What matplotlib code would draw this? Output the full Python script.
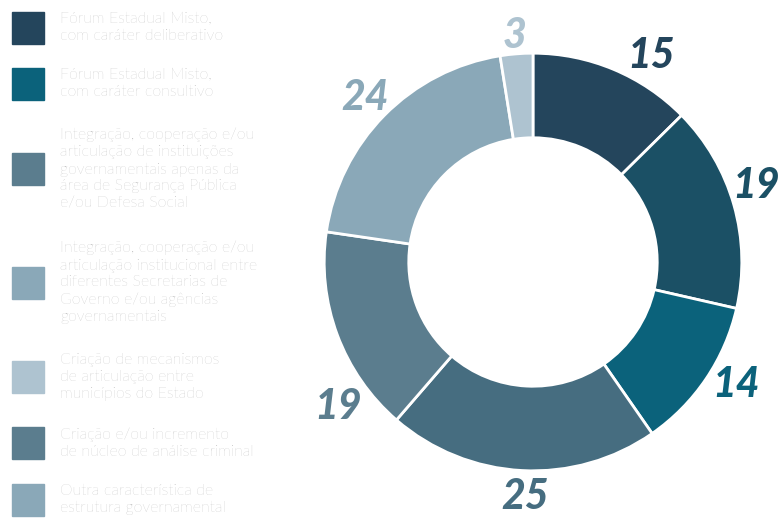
import numpy as np
import matplotlib
matplotlib.use("Agg")
import matplotlib.pyplot as plt

plt.rcParams['font.family'] = ['Lato', 'DejaVu Sans']

# wedge values, clockwise from the top
values = [15, 19, 14, 25, 19, 24, 3]
wedge_colors = ["#24455c", "#1b5065", "#0b627b", "#466d80", "#5b7d8e", "#8aa8b8", "#aec3d0"]

legend_labels = [
    "Fórum Estadual Misto,\ncom caráter deliberativo",
    "Fórum Estadual Misto,\ncom caráter consultivo",
    "Integração, cooperação e/ou\narticulação de instituições\ngovernamentais apenas da\nárea de Segurança Pública\ne/ou Defesa Social",
    "Integração, cooperação e/ou\narticulação institucional entre\ndiferentes Secretarias de\nGoverno e/ou agências\ngovernamentais",
    "Criação de mecanismos\nde articulação entre\nmunicípios do Estado",
    "Criação e/ou incremento\nde núcleo de análise criminal",
    "Outra característica de\nestrutura governamental",
]
legend_colors = ["#24455c", "#0b627b", "#5b7d8e", "#8aa8b8", "#aec3d0", "#5b7d8e", "#8aa8b8"]

W, H = 782, 522
fig = plt.figure(figsize=(W / 100, H / 100), dpi=100)

# donut axes, centre at (533, 262) px, outer radius 210 px
cx, cy, R = 533, 262, 210
half = 261
ax = fig.add_axes([(cx - half) / W, (H - cy - half) / H, 2 * half / W, 2 * half / H])
ax.set_xlim(-half / R, half / R)
ax.set_ylim(-half / R, half / R)
ax.set_aspect("equal")
ax.axis("off")

ax.pie(values, colors=wedge_colors, startangle=90, counterclock=False, radius=1,
       wedgeprops=dict(width=0.405, edgecolor="white", linewidth=2))

# value labels around the ring
total = sum(values)
nudge = [6.8, -3.5, -3.4, -1, -15.7, 0, 0]
radii = [1.148, 1.133, 1.129, 1.114, 1.157, 1.133, 1.10]
start = 0
for v, c, dn, rr in zip(values, wedge_colors, nudge, radii):
    mid = start + v / total * 360 / 2 + dn
    start += v / total * 360
    t = np.deg2rad(90 - mid)
    ax.text(rr * np.cos(t), rr * np.sin(t) - 0.012, str(v), color=c, fontsize=29.5,
            fontweight="black", fontstyle="italic", ha="center", va="center")

# legend on the left
line_h = 19
gap = 18.5
y = 18
for lab, col in zip(legend_labels, legend_colors):
    n = lab.count("\n") + 1
    ymid = y + (n - 1) * line_h / 2
    fig.patches.append(plt.Rectangle((12 / W, 1 - (ymid + 16) / H), 32 / W, 32 / H,
                                     transform=fig.transFigure, color=col))
    fig.text(60 / W, 1 - ymid / H, lab, fontsize=11.4, fontweight="light", color="#ababab",
             ha="left", va="center", linespacing=1.26)
    y += n * line_h + gap

fig.savefig("out.png", dpi=100)
